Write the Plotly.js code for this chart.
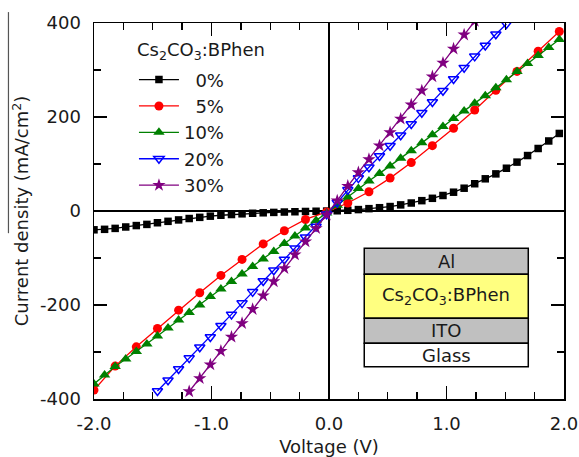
<!DOCTYPE html>
<html>
<head>
<meta charset="utf-8">
<script src="https://cdn.plot.ly/plotly-3.0.1.min.js"></script>
<style>html,body{margin:0;padding:0;background:#fff;}#chart{width:579px;height:457px;}</style>
</head>
<body>
<div id="chart"></div>
<script>
// Voltage grid (V) for the densely sampled series
var xGrid = [-2.00, -1.91, -1.82, -1.73, -1.64, -1.55, -1.46, -1.37, -1.28, -1.19, -1.10, -1.01, -0.92, -0.83, -0.74, -0.65, -0.56, -0.47, -0.38, -0.29, -0.20, -0.11, -0.02,
             0.07, 0.16, 0.25, 0.34, 0.43, 0.52, 0.61, 0.70, 0.79, 0.88, 0.97, 1.06, 1.15, 1.24, 1.33, 1.42, 1.51, 1.60, 1.69, 1.78, 1.87, 1.96];

// 0 %
var y0 = [-40, -39, -37, -34, -31, -28.5, -25, -22, -19, -16, -13.5, -11, -9, -7.5, -6, -4.8, -3.8, -3, -2.2, -1.6, -1, -0.5, -0.1,
          0.5, 1.5, 3, 5, 7, 9.5, 13, 17, 22, 27, 33, 40, 48.5, 58, 68.5, 79, 91, 104, 118, 133, 149, 165];

// 5 %
var x5 = [-2.00, -1.82, -1.64, -1.46, -1.28, -1.10, -0.92, -0.74, -0.56, -0.38, -0.20, -0.02, 0.16, 0.34, 0.52, 0.70, 0.88, 1.06, 1.24, 1.42, 1.60, 1.78, 1.96];
var y5 = [-381, -330, -289, -250, -211, -174, -137, -103, -70, -42, -18, -2, 17, 41, 70, 103, 139, 176, 215, 257, 297, 340, 382];

// 10 %
var y10 = [-368, -349, -331, -315, -299, -283, -266, -249, -232, -216, -200, -182, -166, -150, -134, -118, -102, -86, -69, -53, -36, -20, -4,
           12, 30, 48, 64, 80, 96, 112, 128, 145, 162, 180, 197, 213, 229, 245, 262, 279, 297, 314, 331, 348, 365];

// 20 %
var x20 = [-1.46, -1.37, -1.28, -1.19, -1.10, -1.01, -0.92, -0.83, -0.74, -0.65, -0.56, -0.47, -0.38, -0.29, -0.20, -0.11, -0.02,
           0.07, 0.16, 0.25, 0.34, 0.43, 0.52, 0.61, 0.70, 0.79, 0.88, 0.97, 1.06, 1.15, 1.24, 1.33, 1.42, 1.51];
var y20 = [-383, -360, -336, -313, -290, -268, -244, -220, -196, -172, -149, -126, -103, -79, -56, -33, -7,
           18, 45, 70, 93, 117, 139, 161, 185, 209, 232, 256, 281, 305, 329, 352, 376, 398];

// 30 %
var x30 = [-1.19, -1.10, -1.01, -0.92, -0.83, -0.74, -0.65, -0.56, -0.47, -0.38, -0.29, -0.20, -0.11, -0.02,
           0.07, 0.16, 0.25, 0.34, 0.43, 0.52, 0.61, 0.70, 0.79, 0.88, 0.97, 1.06, 1.15, 1.24];
var y30 = [-384, -356, -327, -298, -268, -239, -209, -180, -150, -122, -93, -65, -37, -8,
           22, 53, 82, 110, 139, 167, 196, 226, 256, 286, 315, 345, 375, 404];

var legendTitle = "Cs<sub>2</sub>CO<sub>3</sub>:BPhen";
var seriesNames = ["\u20070%", "\u20075%", "10%", "20%", "30%"];
var xTickVals = [-2, -1, 0, 1, 2];
var xTickText = ["-2.0", "-1.0", "0.0", "1.0", "2.0"];
var yTickVals = [-400, -200, 0, 200, 400];
var yTickText = ["-400", "-200", "0", "200", "400"];
var stackLayers = ["Al", "Cs<sub>2</sub>CO<sub>3</sub>:BPhen", "ITO", "Glass"];

var FONT = "'DejaVu Sans', sans-serif";
var FS = 18;
var TXT = "#1a1a1a";

var traces = [
  {x: xGrid, y: y0, name: seriesNames[0], mode: "lines+markers",
   line: {color: "#000000", width: 1.3}, marker: {symbol: "square", size: 7.5, color: "#000000"}},
  {x: x5, y: y5, name: seriesNames[1], mode: "lines+markers",
   line: {color: "#ff0000", width: 1.3}, marker: {symbol: "circle", size: 9, color: "#ff0000"}},
  {x: xGrid, y: y10, name: seriesNames[2], mode: "lines+markers",
   line: {color: "#008000", width: 1.3}, marker: {symbol: "triangle-up", size: 10, color: "#008000"}},
  {x: x20, y: y20, name: seriesNames[3], mode: "lines+markers",
   line: {color: "#0000ff", width: 1.3}, marker: {symbol: "triangle-down-open", size: 9, color: "#0000ff", line: {width: 1.5}}},
  {x: x30, y: y30, name: seriesNames[4], mode: "lines+markers",
   line: {color: "#800080", width: 1.3}, marker: {symbol: "star", size: 10, color: "#800080"}}
];

// inset device-stack (paper coords)
var ix0 = 0.575, ix1 = 0.924;
var iy = [0.401, 0.332, 0.215, 0.148, 0.086];
var fills = ["#c0c0c0", "#ffff80", "#c0c0c0", "#ffffff"];
var shapes = [];
var annotations = [];
for (var i = 0; i < 4; i++) {
  shapes.push({type: "rect", xref: "paper", yref: "paper", x0: ix0, x1: ix1, y0: iy[i + 1], y1: iy[i],
               fillcolor: fills[i], line: {color: "#000000", width: 1.5}, layer: "above"});
  annotations.push({xref: "paper", yref: "paper", x: (ix0 + ix1) / 2, y: (iy[i] + iy[i + 1]) / 2,
                    text: stackLayers[i], showarrow: false, xanchor: "center", yanchor: "middle",
                    font: {family: FONT, size: FS, color: TXT}});
}
// legend heading
annotations.push({xref: "paper", yref: "paper", x: 0.088, y: 0.925, xanchor: "left", yanchor: "middle",
                  text: legendTitle, showarrow: false, font: {family: FONT, size: FS, color: TXT}});
// stray scan line at the left edge of the original
shapes.push({type: "line", xref: "paper", yref: "paper", x0: -0.182, x1: -0.182, y0: 1.029, y1: 0.441,
             line: {color: "#555555", width: 1.2}});

var axisCommon = {
  showline: true, linecolor: "#000000", linewidth: 1.5, mirror: "ticks",
  ticks: "inside", ticklen: 13, tickwidth: 1.3, tickcolor: "#000000",
  showgrid: false, zeroline: true, zerolinecolor: "#000000", zerolinewidth: 1.3,
  tickfont: {family: FONT, size: FS, color: TXT}, fixedrange: true
};

var layout = {
  width: 579, height: 457,
  margin: {l: 94, r: 15, t: 23, b: 58},
  paper_bgcolor: "#ffffff", plot_bgcolor: "#ffffff",
  font: {family: FONT, size: FS, color: TXT},
  showlegend: true,
  legend: {x: 0.085, y: 0.898, xanchor: "left", yanchor: "top", bgcolor: "rgba(0,0,0,0)",
           borderwidth: 0, font: {family: FONT, size: FS, color: TXT},
           tracegroupgap: 0, itemwidth: 40},
  xaxis: Object.assign({}, axisCommon, {
    range: [-2, 2], tickvals: xTickVals, ticktext: xTickText,
    minor: {dtick: 0.25, tick0: 0, ticks: "inside", ticklen: 7, tickwidth: 1.3, tickcolor: "#000000"},
    ticklabelstandoff: 8,
    title: {text: "Voltage (V)", standoff: 8, font: {family: FONT, size: FS, color: TXT}}
  }),
  yaxis: Object.assign({}, axisCommon, {
    range: [-400, 400], tickvals: yTickVals, ticktext: yTickText,
    minor: {dtick: 100, tick0: 0, ticks: "inside", ticklen: 7, tickwidth: 1.3, tickcolor: "#000000"},
    ticklabelstandoff: 8,
    title: {text: "Current density (mA/cm<sup>2</sup>)", standoff: 6, font: {family: FONT, size: FS, color: TXT}}
  }),
  shapes: shapes,
  annotations: annotations
};

Plotly.newPlot("chart", traces, layout, {staticPlot: true, displayModeBar: false});
</script>
</body>
</html>
